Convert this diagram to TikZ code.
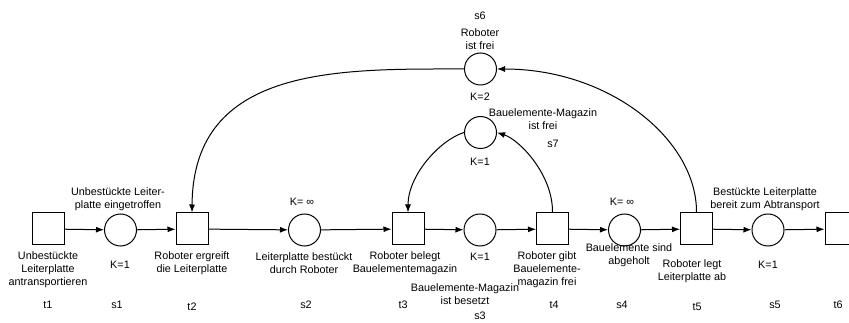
\documentclass[tikz,border=0pt]{standalone}
\usepackage{fontspec}
\setmainfont{Liberation Sans}
\usetikzlibrary{arrows.meta}
\newcommand{\lbfont}{\fontsize{10.8}{12.8}\selectfont}
\tikzset{
  place/.style={circle,draw,line width=1pt,minimum size=32pt,inner sep=0pt},
  trans/.style={rectangle,draw,line width=1pt,minimum size=32pt,inner sep=0pt},
  lbl/.style={align=center,font=\lbfont,inner sep=0pt},
  arc/.style={-{Latex[length=8pt,width=6pt]},line width=1pt}
}
\begin{document}
\begin{tikzpicture}[x=1pt,y=-1pt]
\clip (0,0) rectangle (849,323);
\fill[white] (0,0) rectangle (849,323);
% main row
\node[trans] (t1) at (48.5,229) {};
\node[place] (s1) at (120.5,230) {};
\node[trans] (t2) at (192,229) {};
\node[place] (s2) at (304.5,230) {};
\node[trans] (t3) at (408,229) {};
\node[place] (s3) at (480,230) {};
\node[trans] (t4) at (552.5,229) {};
\node[place] (s4) at (624.5,230) {};
\node[trans] (t5) at (696.5,229) {};
\node[place] (s5) at (768,230) {};
\node[trans] (t6) at (841,229) {};
\node[place] (s6) at (480.5,69) {};
\node[place] (s7) at (480.5,132.5) {};
% straight arcs
\draw[arc] (t1) -- (s1);
\draw[arc] (s1) -- (t2);
\draw[arc] (t2) -- (s2);
\draw[arc] (s2) -- (t3);
\draw[arc] (t3) -- (s3);
\draw[arc] (s3) -- (t4);
\draw[arc] (t4) -- (s4);
\draw[arc] (s4) -- (t5);
\draw[arc] (t5) -- (s5);
\draw[arc] (s5) -- (t6);
% curved arcs
\draw[arc] (s6.west) .. controls (340,69) and (193,65) .. (t2.north);
\draw[arc] (t5.north) .. controls (697,140) and (610,69) .. (s6.east);
\draw[arc] (s7.west) .. controls (440,140) and (408,175) .. (t3.north);
\draw[arc] (t4.north) .. controls (553,175) and (520,140) .. (s7.east);
% labels
\node[lbl] (lt1) at (48,270) {Unbestückte\\Leiterplatte\\antransportieren};
\node[lbl] (ls1a) at (118,199) {Unbestückte Leiter-\\platte eingetroffen};
\node[lbl] (ls1k) at (120,265) {K=1};
\node[lbl] (lt2) at (192,263.5) {Roboter ergreift\\die Leiterplatte};
\node[lbl] (ls2k) at (302,202) {K= ∞};
\node[lbl] (ls2) at (304,263.5) {Leiterplatte bestückt\\durch Roboter};
\node[lbl] (lt3) at (405,263.5) {Roboter belegt\\Bauelementemagazin};
\node[lbl] (ls3k) at (480,257) {K=1};
\node[lbl] (ls3) at (465,294.5) {Bauelemente-Magazin\\ist besetzt};
\node[lbl] (lt4) at (547,270) {Roboter gibt\\Bauelemente-\\magazin frei};
\node[lbl] (ls4k) at (622,202) {K= ∞};
\node[lbl] (ls4) at (629,255.5) {Bauelemente sind\\abgeholt};
\node[lbl] (lt5) at (692,271.5) {Roboter legt\\Leiterplatte ab};
\node[lbl] (ls5a) at (765,199) {Bestückte Leiterplatte\\bereit zum Abtransport};
\node[lbl] (ls5k) at (768,265) {K=1};
\node[lbl] (ls6id) at (480,16) {s6};
\node[lbl] (ls6) at (480,39) {Roboter\\ist frei};
\node[lbl] (ls6k) at (480,97) {K=2};
\node[lbl] (ls7) at (543,119) {Bauelemente-Magazin\\ist frei};
\node[lbl] (ls7id) at (553,144) {s7};
\node[lbl] (ls7k) at (480,162) {K=1};
% ids
\node[lbl] (it1) at (48,305) {t1};
\node[lbl] (is1) at (117,305) {s1};
\node[lbl] (it2) at (192,307) {t2};
\node[lbl] (is2) at (306,305) {s2};
\node[lbl] (it3) at (403,305) {t3};
\node[lbl] (is3) at (480,316) {s3};
\node[lbl] (it4) at (554,305) {t4};
\node[lbl] (is4) at (622,305) {s4};
\node[lbl] (it5) at (697,307) {t5};
\node[lbl] (is5) at (775,305) {s5};
\node[lbl] (it6) at (838,305) {t6};
\end{tikzpicture}
\end{document}
